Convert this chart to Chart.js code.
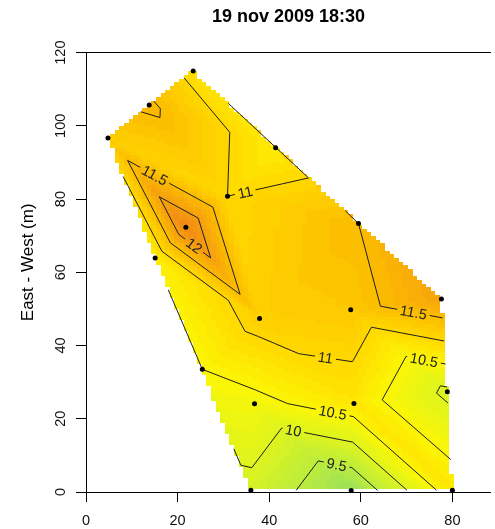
<!DOCTYPE html>
<html>
<head>
<meta charset="utf-8">
<script src="https://cdn.jsdelivr.net/npm/chart.js@4/dist/chart.umd.min.js"></script>
<style>
  html, body { margin: 0; padding: 0; background: #fff; }
  canvas { display: block; }
</style>
</head>
<body>
<canvas id="c" width="495" height="529"></canvas>
<script>
// Measurement stations: position in metres and air temperature (°C)
const stationX = [23.4, 13.8, 4.8, 41.4, 30.9, 21.8, 15.1, 59.5, 57.8, 77.6, 37.9, 25.4, 36.8, 58.5, 78.9, 57.9, 80.0, 36.0];
const stationY = [115.0, 105.7, 96.7, 94.0, 80.8, 72.3, 63.9, 73.3, 49.8, 52.7, 47.4, 33.5, 24.1, 24.2, 27.4, 0.4, 0.5, 0.5];
const temperature = [10.85, 11.58, 11.19, 10.67, 11.0, 12.42, 10.6, 11.5, 11.3, 11.91, 11.17, 10.5, 10.37, 10.76, 9.9, 9.05, 10.77, 9.87];

// Isotherms and axis ticks
const contourLevels = [9.5, 10, 10.5, 11, 11.5, 12];
const xTicks = [0, 20, 40, 60, 80];
const yTicks = [0, 20, 40, 60, 80, 100, 120];

// Where each isotherm carries its label: [level, x, y]
const labelSpots = [
  [11.5, 14.6, 85.5], [12, 23.6, 67.2], [11, 34.8, 81.7],
  [11.5, 71.4, 48.4], [11, 52.2, 35.8], [10.5, 73.7, 35.4],
  [10.5, 53.8, 21.3], [10, 45.1, 15.6], [9.5, 54.6, 6.7]
];

// Colour ramp for the temperature surface
const rampStops = [9.0, 9.5, 10.0, 10.5, 11.0, 11.5, 12.0, 12.5];
const rampColours = [[150,222,95],[188,236,60],[222,244,30],[252,246,5],[255,216,0],[252,188,0],[246,158,15],[240,130,25]];
const bandWidth = 0.1;
const gridStep = 1;

const FONT = '"Liberation Sans", Arial, Helvetica, sans-serif';

// ---- Delaunay triangulation (Bowyer-Watson) ----
function triangulate(xs, ys) {
  const n = xs.length;
  const px = xs.slice(), py = ys.slice();
  const minX = Math.min(...xs), maxX = Math.max(...xs);
  const minY = Math.min(...ys), maxY = Math.max(...ys);
  const d = Math.max(maxX - minX, maxY - minY) * 1000;
  const cx = (minX + maxX) / 2, cy = (minY + maxY) / 2;
  px.push(cx - d, cx, cx + d);
  py.push(cy - d, cy + d, cy - d);
  function mk(a, b, c) {
    const ax = px[a], ay = py[a], bx = px[b], by = py[b], qx = px[c], qy = py[c];
    const D = 2 * (ax * (by - qy) + bx * (qy - ay) + qx * (ay - by));
    const ux = ((ax*ax + ay*ay) * (by - qy) + (bx*bx + by*by) * (qy - ay) + (qx*qx + qy*qy) * (ay - by)) / D;
    const uy = ((ax*ax + ay*ay) * (qx - bx) + (bx*bx + by*by) * (ax - qx) + (qx*qx + qy*qy) * (bx - ax)) / D;
    return { v: [a, b, c], ux, uy, r2: (ax - ux) ** 2 + (ay - uy) ** 2 };
  }
  let tris = [mk(n, n + 1, n + 2)];
  for (let i = 0; i < n; i++) {
    const bad = [], keep = [];
    for (const t of tris) {
      ((px[i] - t.ux) ** 2 + (py[i] - t.uy) ** 2 < t.r2 ? bad : keep).push(t);
    }
    const edges = new Map();
    for (const t of bad) {
      for (let k = 0; k < 3; k++) {
        const a = t.v[k], b = t.v[(k + 1) % 3];
        const key = a < b ? a + ',' + b : b + ',' + a;
        if (edges.has(key)) edges.set(key, null); else edges.set(key, [a, b]);
      }
    }
    tris = keep;
    for (const e of edges.values()) if (e) tris.push(mk(e[0], e[1], i));
  }
  return tris.filter(t => t.v.every(k => k < n)).map(t => t.v);
}

const triangles = triangulate(stationX, stationY);

// Linear interpolation inside the triangulation (null outside the hull)
function valueAt(qx, qy) {
  for (const [a, b, c] of triangles) {
    const x1 = stationX[a], y1 = stationY[a], x2 = stationX[b], y2 = stationY[b], x3 = stationX[c], y3 = stationY[c];
    const det = (y2 - y3) * (x1 - x3) + (x3 - x2) * (y1 - y3);
    const l1 = ((y2 - y3) * (qx - x3) + (x3 - x2) * (qy - y3)) / det;
    const l2 = ((y3 - y1) * (qx - x3) + (x1 - x3) * (qy - y3)) / det;
    const l3 = 1 - l1 - l2;
    if (l1 >= -1e-9 && l2 >= -1e-9 && l3 >= -1e-9) {
      return l1 * temperature[a] + l2 * temperature[b] + l3 * temperature[c];
    }
  }
  return null;
}

// Surface cells on a regular grid
const cells = [];
(function () {
  const x0 = Math.min(...stationX), x1 = Math.max(...stationX);
  const y0 = Math.min(...stationY), y1 = Math.max(...stationY);
  for (let gx = x0; gx <= x1 + 1e-9; gx += gridStep) {
    for (let gy = y0; gy <= y1 + 1e-9; gy += gridStep) {
      const v = valueAt(gx, gy);
      if (v !== null) cells.push({ x: gx, y: gy, v });
    }
  }
})();

function fillColour(v) {
  const q = (Math.floor(v / bandWidth) + 0.5) * bandWidth;
  let i = 0;
  while (i < rampStops.length - 2 && q > rampStops[i + 1]) i++;
  let t = (q - rampStops[i]) / (rampStops[i + 1] - rampStops[i]);
  t = Math.max(0, Math.min(1, t));
  const c0 = rampColours[i], c1 = rampColours[i + 1];
  const c = c0.map((c, k) => Math.round(c + t * (c1[k] - c)));
  return `rgb(${c[0]},${c[1]},${c[2]})`;
}

// Isotherm segments, one per triangle crossed
function isotherm(level) {
  const segs = [];
  for (const tri of triangles) {
    const pts = [];
    for (let k = 0; k < 3; k++) {
      const a = tri[k], b = tri[(k + 1) % 3];
      const ua = temperature[a] >= level, ub = temperature[b] >= level;
      if (ua !== ub) {
        const t = (level - temperature[a]) / (temperature[b] - temperature[a]);
        pts.push([stationX[a] + t * (stationX[b] - stationX[a]), stationY[a] + t * (stationY[b] - stationY[a])]);
      }
    }
    if (pts.length === 2) segs.push(pts);
  }
  return segs;
}
const isotherms = contourLevels.map(l => ({ level: l, segs: isotherm(l) }));

const fieldPlugin = {
  id: 'temperatureField',
  beforeDraw(chart) {
    const { ctx, chartArea: a, scales: { x, y } } = chart;
    ctx.save();
    ctx.beginPath();
    ctx.rect(a.left, a.top, a.right - a.left, a.bottom - a.top);
    ctx.clip();

    // filled surface
    for (const c of cells) {
      const l = Math.round(x.getPixelForValue(c.x - gridStep / 2));
      const r = Math.round(x.getPixelForValue(c.x + gridStep / 2));
      const t = Math.round(y.getPixelForValue(c.y + gridStep / 2));
      const b = Math.round(y.getPixelForValue(c.y - gridStep / 2));
      ctx.fillStyle = fillColour(c.v);
      ctx.fillRect(l, t, r - l, b - t);
    }

    // label placement: nearest point on the isotherm, text along its direction
    ctx.font = `14.5px ${FONT}`;
    const labels = [];
    for (const [level, lx, ly] of labelSpots) {
      const iso = isotherms.find(i => i.level === level);
      if (!iso) continue;
      const hx = x.getPixelForValue(lx), hy = y.getPixelForValue(ly);
      let best = null;
      for (const s of iso.segs) {
        const ax = x.getPixelForValue(s[0][0]), ay = y.getPixelForValue(s[0][1]);
        const bx = x.getPixelForValue(s[1][0]), by = y.getPixelForValue(s[1][1]);
        const dx = bx - ax, dy = by - ay, len2 = dx * dx + dy * dy;
        if (len2 < 1e-6) continue;
        let t = ((hx - ax) * dx + (hy - ay) * dy) / len2;
        t = Math.max(0, Math.min(1, t));
        const cx = ax + t * dx, cy = ay + t * dy;
        const d = (cx - hx) ** 2 + (cy - hy) ** 2;
        if (!best || d < best.d) {
          let ang = Math.atan2(dy, dx);
          if (ang > Math.PI / 2) ang -= Math.PI;
          if (ang < -Math.PI / 2) ang += Math.PI;
          best = { d, cx, cy, ang };
        }
      }
      if (!best) continue;
      const text = String(level);
      labels.push({ text, x: best.cx, y: best.cy, ang: best.ang, w: ctx.measureText(text).width + 6, h: 12 });
    }

    // isotherm lines with gaps under the labels
    ctx.save();
    ctx.beginPath();
    ctx.rect(a.left, a.top, a.right - a.left, a.bottom - a.top);
    for (const L of labels) {
      const cs = Math.cos(L.ang), sn = Math.sin(L.ang);
      const corners = [[-L.w / 2, -L.h / 2], [L.w / 2, -L.h / 2], [L.w / 2, L.h / 2], [-L.w / 2, L.h / 2]];
      corners.forEach(([u, v], k) => {
        const px = L.x + u * cs - v * sn, py = L.y + u * sn + v * cs;
        if (k === 0) ctx.moveTo(px, py); else ctx.lineTo(px, py);
      });
      ctx.closePath();
    }
    ctx.clip('evenodd');
    ctx.strokeStyle = '#1e1e1e';
    ctx.lineWidth = 1;
    ctx.beginPath();
    for (const iso of isotherms) {
      for (const s of iso.segs) {
        ctx.moveTo(x.getPixelForValue(s[0][0]), y.getPixelForValue(s[0][1]));
        ctx.lineTo(x.getPixelForValue(s[1][0]), y.getPixelForValue(s[1][1]));
      }
    }
    ctx.stroke();
    ctx.restore();

    // label text
    ctx.fillStyle = '#222';
    ctx.textAlign = 'center';
    ctx.textBaseline = 'middle';
    for (const L of labels) {
      ctx.save();
      ctx.translate(L.x, L.y);
      ctx.rotate(L.ang);
      ctx.fillText(L.text, 0, 1);
      ctx.restore();
    }
    ctx.restore();
  },
  afterDraw(chart) {
    const { ctx, chartArea: a } = chart;
    ctx.save();
    ctx.fillStyle = '#000';
    ctx.font = `17px ${FONT}`;
    ctx.textAlign = 'center';
    ctx.textBaseline = 'middle';
    ctx.translate(28, (a.top + a.bottom) / 2 - 10);
    ctx.rotate(-Math.PI / 2);
    ctx.fillText('East - West (m)', 0, 0);
    ctx.restore();
  }
};

new Chart(document.getElementById('c'), {
  type: 'scatter',
  data: {
    datasets: [{
      data: stationX.map((sx, i) => ({ x: sx, y: stationY[i] })),
      pointRadius: 2.5,
      pointBackgroundColor: '#000',
      pointBorderWidth: 0,
      clip: false
    }]
  },
  options: {
    responsive: false,
    devicePixelRatio: 1,
    animation: false,
    events: [],
    layout: { padding: 0 },
    plugins: {
      legend: { display: false },
      tooltip: { enabled: false },
      title: {
        display: true,
        fullSize: false,
        text: '19 nov 2009 18:30',
        color: '#000',
        font: { family: FONT, size: 18, weight: 'bold' },
        padding: { top: 6, bottom: 25 }
      }
    },
    scales: {
      x: {
        type: 'linear',
        position: 'bottom',
        min: 0,
        max: 88.43,
        afterBuildTicks: s => { s.ticks = xTicks.map(v => ({ value: v })); },
        afterFit: s => { s.height = 37; },
        grid: { drawOnChartArea: false, drawTicks: true, tickLength: 10, tickColor: '#000', tickWidth: 1 },
        border: { display: false },
        ticks: { color: '#111', font: { family: FONT, size: 14.5 }, padding: 10, minRotation: 0, maxRotation: 0, autoSkip: false }
      },
      y: {
        type: 'linear',
        position: 'left',
        min: 0,
        max: 120,
        afterBuildTicks: s => { s.ticks = yTicks.map(v => ({ value: v })); },
        afterFit: s => { s.width = 86; },
        grid: {
          color: c => (c.tick && (c.tick.value === 0 || c.tick.value === 120)) ? '#000' : 'rgba(0,0,0,0)',
          tickColor: '#000',
          tickLength: 10,
          lineWidth: 1,
          drawTicks: true
        },
        border: { display: true, color: '#000', width: 1 },
        ticks: { color: '#111', font: { family: FONT, size: 14.5 }, padding: 3, minRotation: 90, maxRotation: 90, crossAlign: 'center', autoSkip: false }
      }
    }
  },
  plugins: [fieldPlugin]
});
</script>
</body>
</html>
